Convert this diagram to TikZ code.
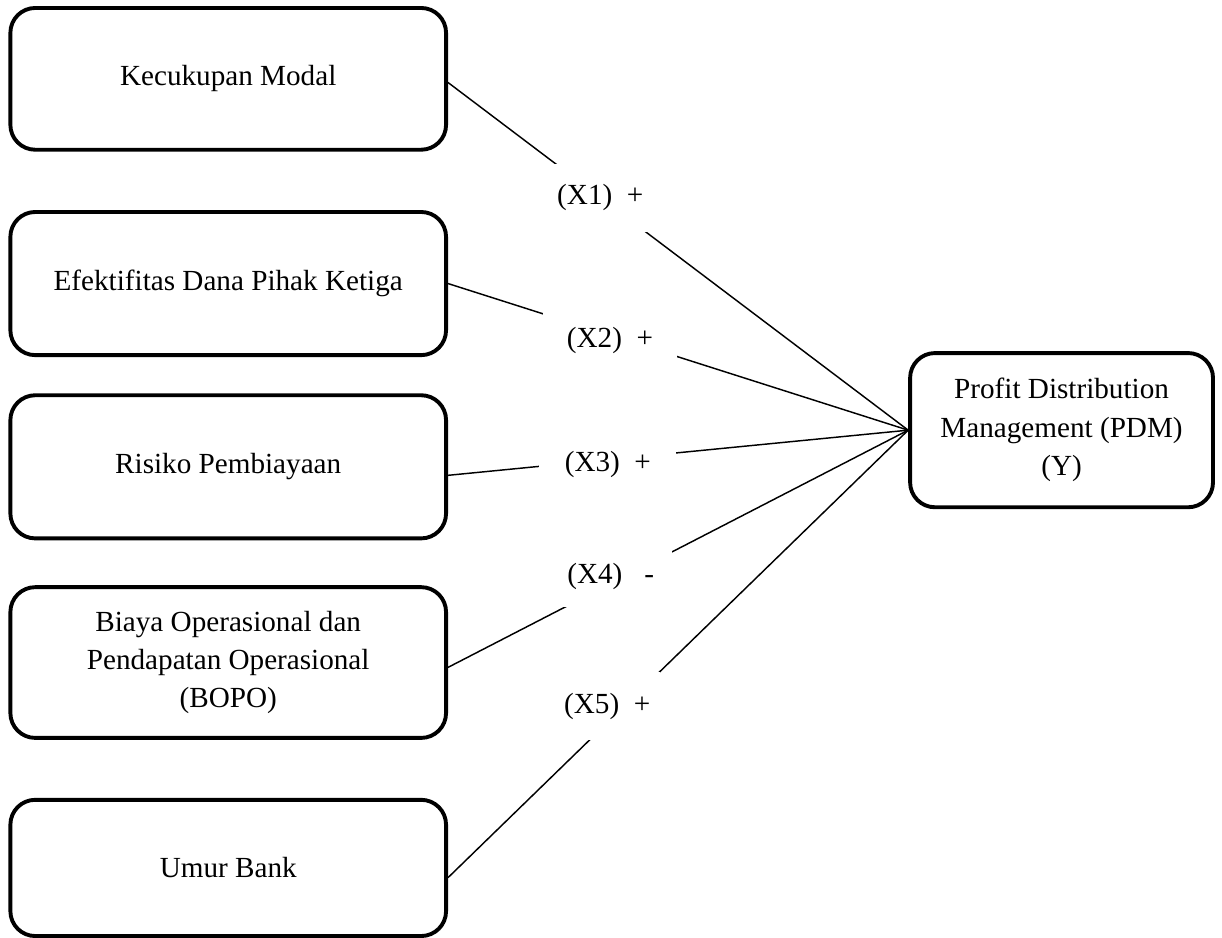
\documentclass[tikz,border=0pt]{standalone}
\usepackage{fontspec}
\setmainfont{Liberation Serif}
\usetikzlibrary{positioning}

\begin{document}
\begin{tikzpicture}[
    var/.style={draw, line width=1.6pt, rounded corners=0.36cm, minimum width=6.3cm,
        align=center, font=\fontsize{12}{15.8}\selectfont},
    sign/.style={fill=white, inner sep=0pt, font=\fontsize{12}{14}\selectfont},
    link/.style={line width=0.6pt}
]
    \useasboundingbox (0,0) rectangle (17.67,-13.56);

    % Independent variables
    \node[var, minimum height=2.05cm] (modal) at (3.30,-1.14) {Kecukupan Modal};
    \node[var, minimum height=2.07cm] (dpk) at (3.30,-4.10) {Efektifitas Dana Pihak Ketiga};
    \node[var, minimum height=2.07cm] (risiko) at (3.30,-6.75) {Risiko Pembiayaan};
    \node[var, minimum height=2.18cm] (bopo) at (3.30,-9.58)
        {Biaya Operasional dan\\Pendapatan Operasional\\(BOPO)};
    \node[var, minimum height=1.97cm] (umur) at (3.30,-12.55) {Umur Bank};

    % Dependent variable
    \node[var, minimum width=4.38cm, minimum height=2.23cm] (pdm) at (15.35,-6.22)
        {Profit Distribution\\Management (PDM)\\(Y)};

    % Paths
    \draw[link] ([yshift=-1.5pt]modal.east) -- (pdm.west);
    \draw[link] (dpk.east) -- (pdm.west);
    \draw[link] ([yshift=-3.5pt]risiko.east) -- (pdm.west);
    \draw[link] ([yshift=-2pt]bopo.east) -- (pdm.west);
    \draw[link] ([yshift=-4pt]umur.east) -- (pdm.west);

    % Hypothesis signs
    \node[sign, minimum width=1.45cm, minimum height=0.98cm] (h1) at (8.68,-2.86) {(X1)\ \ +};
    \node[sign, minimum width=1.94cm, minimum height=1.01cm] (h2) at (8.82,-4.92) {(X2)\ \ +};
    \node[sign, minimum width=1.98cm, minimum height=0.72cm] (h3) at (8.79,-6.72) {(X3)\ \ +};
    \node[sign, minimum width=1.76cm, minimum height=0.90cm] (h4) at (8.83,-8.33) {(X4)\ \ \ -};
    \node[sign, minimum width=1.52cm, minimum height=0.98cm] (h5) at (8.78,-10.21) {(X5)\ \ +};
\end{tikzpicture}
\end{document}
